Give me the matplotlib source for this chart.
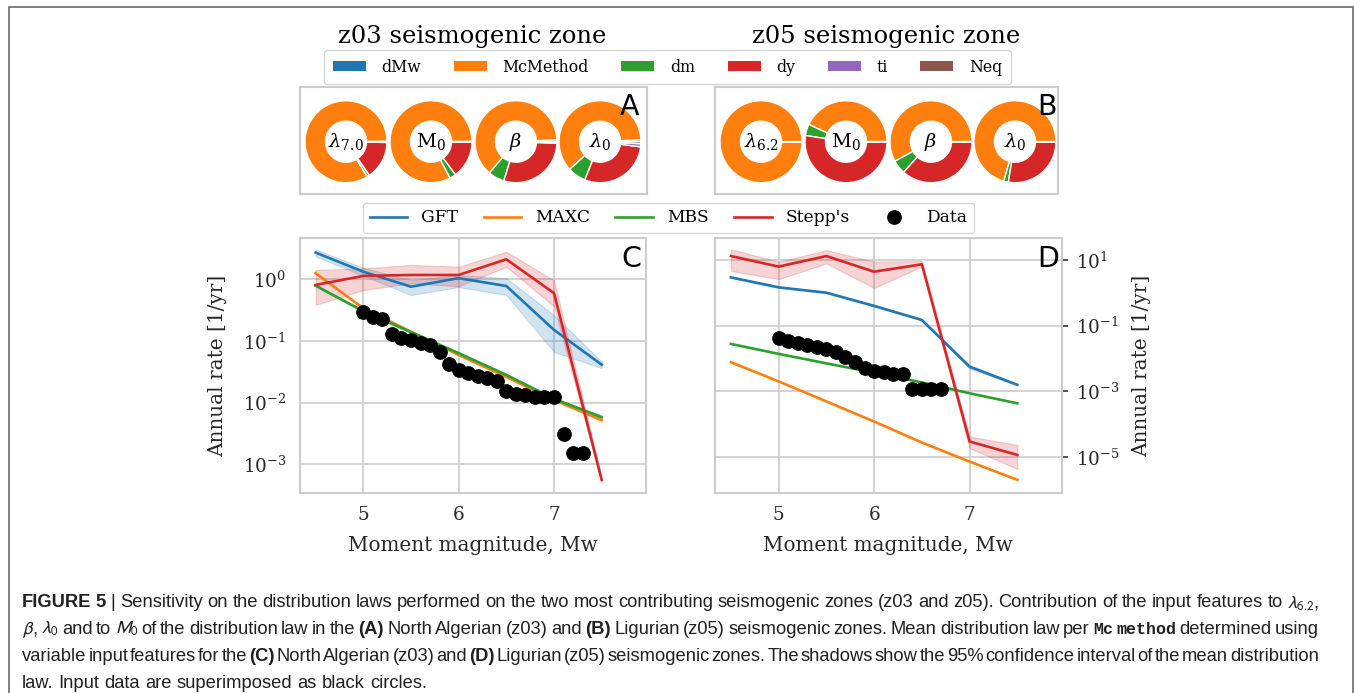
import matplotlib
matplotlib.use('Agg')
import matplotlib.pyplot as plt
from matplotlib.patches import Patch, Rectangle
from matplotlib.lines import Line2D
from matplotlib.ticker import NullLocator

W, H = 1354, 693
plt.rcParams['font.family'] = ['DejaVu Serif']
plt.rcParams['mathtext.fontset'] = 'dejavuserif'

# ---------------- data ----------------
features = ['dMw', 'McMethod', 'dm', 'dy', 'ti', 'Neq']
feature_colors = ['#1f77b4', '#ff7f0e', '#2ca02c', '#d62728', '#9467bd', '#8c564b']

pie_labels_A = [r'$\lambda_{7.0}$', r'$\mathrm{M}_0$', r'$\beta$', r'$\lambda_0$']
pie_A_lambda70 = [0.002, 0.835, 0.010, 0.150, 0.002, 0.001]
pie_A_M0 = [0.002, 0.825, 0.025, 0.146, 0.001, 0.001]
pie_A_beta = [0.008, 0.630, 0.064, 0.292, 0.004, 0.002]
pie_A_lambda0 = [0.008, 0.610, 0.072, 0.290, 0.012, 0.008]

pie_labels_B = [r'$\lambda_{6.2}$', r'$\mathrm{M}_0$', r'$\beta$', r'$\lambda_0$']
pie_B_lambda62 = [0.0005, 0.998, 0.0005, 0.0005, 0.0, 0.0005]
pie_B_M0 = [0.001, 0.430, 0.045, 0.522, 0.001, 0.001]
pie_B_beta = [0.001, 0.578, 0.055, 0.364, 0.001, 0.001]
pie_B_lambda0 = [0.001, 0.705, 0.018, 0.274, 0.001, 0.001]

methods = ['GFT', 'MAXC', 'MBS', "Stepp's"]
method_colors = ['#1f77b4', '#ff7f0e', '#2ca02c', '#d62728']
mag = [4.5, 5.0, 5.5, 6.0, 6.5, 7.0, 7.5]

# z03 (panel C)
c_gft = [2.67, 1.31, 0.75, 1.03, 0.77, 0.15, 0.041]
c_gft_lo = [2.3, 1.12, 0.55, 0.74, 0.55, 0.066, 0.036]
c_gft_hi = [3.0, 1.52, 0.96, 1.16, 1.03, 0.26, 0.046]
c_maxc = [1.24, 0.336, 0.14, 0.059, 0.026, 0.011, 0.0052]
c_maxc_lo = [1.21, 0.33, 0.137, 0.058, 0.0255, 0.0107, 0.0050]
c_maxc_hi = [1.27, 0.342, 0.143, 0.060, 0.0265, 0.0113, 0.0054]
c_mbs = [0.78, 0.30, 0.138, 0.063, 0.028, 0.0115, 0.0058]
c_mbs_lo = [0.76, 0.29, 0.134, 0.061, 0.027, 0.011, 0.0054]
c_mbs_hi = [0.80, 0.31, 0.142, 0.065, 0.029, 0.012, 0.0062]
c_stepp = [0.80, 1.12, 1.16, 1.16, 2.08, 0.59, 0.00056]
c_stepp_lo = [0.38, 0.66, 0.85, 0.76, 1.58, 0.36, 0.00050]
c_stepp_hi = [1.40, 1.48, 1.69, 1.58, 2.75, 0.95, 0.00062]
c_data_mag = [5.0, 5.1, 5.2, 5.3, 5.4, 5.5, 5.6, 5.7, 5.8, 5.9, 6.0, 6.1,
              6.2, 6.3, 6.4, 6.5, 6.6, 6.7, 6.8, 6.9, 7.0, 7.1, 7.2, 7.3]
c_data_rate = [0.289, 0.245, 0.222, 0.127, 0.110, 0.103, 0.093, 0.0855,
               0.0667, 0.042, 0.0337, 0.0305, 0.0272, 0.0247, 0.0226, 0.0156,
               0.0138, 0.0133, 0.0122, 0.0122, 0.0122, 0.0031, 0.00155, 0.00155]

# z05 (panel D)
d_gft = [2.95, 1.47, 1.01, 0.40, 0.149, 0.0056, 0.00158]
d_gft_lo = [2.85, 1.42, 0.97, 0.385, 0.143, 0.0049, 0.00152]
d_gft_hi = [3.05, 1.52, 1.05, 0.415, 0.155, 0.0064, 0.00164]
d_maxc = [0.00767, 0.0020, 0.00049, 0.00012, 2.75e-05, 7.2e-06, 2.0e-06]
d_mbs = [0.0277, 0.0138, 0.0071, 0.0037, 0.00186, 0.00087, 0.00043]
d_stepp = [13.2, 6.3, 13.2, 4.4, 7.4, 2.95e-05, 1.15e-05]
d_stepp_lo = [4.7, 2.6, 7.9, 1.4, 6.3, 1.86e-05, 4.3e-06]
d_stepp_hi = [21.2, 8.9, 20.0, 8.9, 9.3, 4.2e-05, 2.3e-05]
d_data_mag = [5.0, 5.1, 5.2, 5.3, 5.4, 5.5, 5.6, 5.7, 5.8, 5.9, 6.0, 6.1,
              6.2, 6.3, 6.4, 6.5, 6.6, 6.7]
d_data_rate = [0.0412, 0.0342, 0.0304, 0.0258, 0.0230, 0.0195, 0.0155, 0.0109,
               0.00804, 0.00527, 0.00418, 0.00381, 0.00331, 0.00331,
               0.00117, 0.00117, 0.00117, 0.00117]

c_yticks = [1e0, 1e-1, 1e-2, 1e-3]
d_yticks = [1e1, 1e-1, 1e-3, 1e-5]
x_ticks = [5, 6, 7]

caption_lines = [
    [("FIGURE 5", 'b'), ("|", 'n'), ("Sensitivity on the distribution laws performed on the two most contributing seismogenic zones (z03 and z05). Contribution of the input features to $\\lambda_{6.2}$,", 'n')],
    [("$\\beta$, $\\lambda_0$ and to $M_0$ of the distribution law in the", 'n'), ("(A)", 'b'), ("North Algerian (z03) and", 'n'), ("(B)", 'b'), ("Ligurian (z05) seismogenic zones. Mean distribution law per", 'n'), ("Mc method", 'm'), ("determined using", 'n')],
    [("variable input features for the", 'n'), ("(C)", 'b'), ("North Algerian (z03) and", 'n'), ("(D)", 'b'), ("Ligurian (z05) seismogenic zones. The shadows show the 95% confidence interval of the mean distribution", 'n')],
    [("law. Input data are superimposed as black circles.", 'n')],
]

# ---------------- figure ----------------
fig = plt.figure(figsize=(W / 100, H / 100), dpi=100)
GRID = '#cccccc'


def rect(x0, y0, x1, y1):
    return [x0 / W, 1 - y1 / H, (x1 - x0) / W, (y1 - y0) / H]


def fx(x):
    return x / W


def fy(y):
    return 1 - y / H


# outer frame
fig.patches.append(Rectangle((fx(8.5), -0.05), fx(1352.5) - fx(8.5), fy(6.5) + 0.05,
                             transform=fig.transFigure, fill=False,
                             edgecolor='#6a6a6a', lw=1.2))

# titles
fig.text(fx(472), fy(43), 'z03 seismogenic zone', ha='center', va='baseline', fontsize=17.5)
fig.text(fx(886), fy(43), 'z05 seismogenic zone', ha='center', va='baseline', fontsize=17.5)


def pie_panel(box, pies, labels, letter, letter_x):
    x0, y0, x1, y1 = box
    ax = fig.add_axes(rect(*box))
    w, h = x1 - x0, y1 - y0
    centers = [46, 131, 216, 300]
    cy = y1 - 141.7
    for vals, lab, cx in zip(pies, labels, centers):
        ax.pie(vals, colors=feature_colors, center=(cx, cy), radius=41,
               startangle=0, counterclock=True, frame=True,
               wedgeprops=dict(width=20.5, edgecolor='white', linewidth=1.0))
        ax.text(cx, cy, lab, ha='center', va='center', fontsize=14)
    ax.set_xlim(0, w)
    ax.set_ylim(0, h)
    ax.set_aspect('auto')
    ax.set_xticks([])
    ax.set_yticks([])
    for s in ax.spines.values():
        s.set_color(GRID)
        s.set_linewidth(1.5)
    fig.text(fx(letter_x), fy(115), letter, ha='center', va='baseline',
             fontsize=20.5, family='DejaVu Sans')


pie_panel((300, 87.3, 646.7, 194), [pie_A_lambda70, pie_A_M0, pie_A_beta, pie_A_lambda0],
          pie_labels_A, 'A', 630)
pie_panel((715, 87.3, 1058, 194), [pie_B_lambda62, pie_B_M0, pie_B_beta, pie_B_lambda0],
          pie_labels_B, 'B', 1046.5)


def rate_panel(box, series, data_mag, data_rate, ylim, yticks, right):
    ax = fig.add_axes(rect(*box))
    for (mean, lo, hi), col in zip(series, method_colors):
        if lo is not None:
            ax.fill_between(mag, lo, hi, color=col, alpha=0.2, lw=0.8)
        ax.plot(mag, mean, color=col, lw=1.9)
    ax.plot(data_mag, data_rate, 'o', color='black', ms=9.6, ls='none', zorder=5)
    ax.set_yscale('log')
    ax.set_xlim(4.336, 7.965)
    ax.set_ylim(*ylim)
    ax.set_xticks(x_ticks)
    ax.set_yticks(yticks)
    ax.yaxis.set_minor_locator(NullLocator())
    ax.grid(True, color=GRID, lw=1.2)
    ax.set_axisbelow(True)
    for s in ax.spines.values():
        s.set_color(GRID)
        s.set_linewidth(1.5)
    ax.tick_params(axis='x', length=0, pad=9.5, labelsize=13.2, colors='#262626')
    if right:
        ax.yaxis.tick_right()
        ax.tick_params(axis='y', length=4, width=1.2, color='#333333', pad=6,
                       labelsize=13.2, labelcolor='#262626')
    else:
        ax.tick_params(axis='y', length=0, pad=10, labelsize=13.2, colors='#262626')
    return ax


axC = rate_panel((300, 238, 646, 493),
                 [(c_gft, c_gft_lo, c_gft_hi), (c_maxc, c_maxc_lo, c_maxc_hi),
                  (c_mbs, c_mbs_lo, c_mbs_hi), (c_stepp, c_stepp_lo, c_stepp_hi)],
                 c_data_mag, c_data_rate, (10 ** -3.464, 10 ** 0.663), c_yticks, False)
axD = rate_panel((715.3, 237.7, 1061.7, 492.7),
                 [(d_gft, d_gft_lo, d_gft_hi), (d_maxc, None, None),
                  (d_mbs, None, None), (d_stepp, d_stepp_lo, d_stepp_hi)],
                 d_data_mag, d_data_rate, (10 ** -6.09, 10 ** 1.68), d_yticks, True)

fig.text(fx(631.7), fy(266.7), 'C', ha='center', va='baseline', fontsize=20.5, family='DejaVu Sans')
fig.text(fx(1048), fy(266.7), 'D', ha='center', va='baseline', fontsize=20.5, family='DejaVu Sans')

for xc in (472.5, 888):
    fig.text(fx(xc), fy(551), 'Moment magnitude, Mw', ha='center', va='baseline',
             fontsize=14.4, color='#262626')
fig.text(fx(218), fy(366), 'Annual rate [1/yr]', rotation=90, ha='center', va='center',
         fontsize=14.4, color='#262626')
fig.text(fx(1142), fy(366), 'Annual rate [1/yr]', rotation=90, ha='center', va='center',
         fontsize=14.4, color='#262626')

# legends
pie_handles = [Patch(facecolor=c, label=f) for f, c in zip(features, feature_colors)]
fig.legend(handles=pie_handles, loc='center', bbox_to_anchor=(fx(667.5), fy(67)), ncol=6,
           fontsize=11.3, frameon=True, edgecolor=GRID, handlelength=2.1, handleheight=0.65,
           handletextpad=1.0, columnspacing=2.07, borderpad=0.55)

line_handles = [Line2D([], [], color=c, lw=1.9, label=m) for m, c in zip(methods, method_colors)]
line_handles.append(Line2D([], [], marker='o', color='black', ls='none', ms=9.6, label='Data'))
fig.legend(handles=line_handles, loc='center', bbox_to_anchor=(fx(668.5), fy(218)), ncol=5,
           fontsize=12.3, frameon=True, edgecolor=GRID, handlelength=2.2,
           handletextpad=0.8, columnspacing=1.5, borderpad=0.4)

# caption with justified lines
fig.canvas.draw()
renderer = fig.canvas.get_renderer()
CAP_FS = 13.2
styles = {
    'n': dict(family='Liberation Sans', fontsize=CAP_FS, math_fontfamily='stixsans'),
    'b': dict(family='Liberation Sans', fontsize=CAP_FS, fontweight='bold', math_fontfamily='stixsans'),
    'm': dict(family='Liberation Mono', fontsize=12.0, fontweight='bold'),
}
x_left, x_right = 22, 1319
baselines = [607, 634, 661, 687.5]
for li, (segments, yb) in enumerate(zip(caption_lines, baselines)):
    words = []
    for text, st in segments:
        for wtxt in text.split(' '):
            if wtxt:
                words.append((wtxt, st))
    items = []
    for wtxt, st in words:
        t = fig.text(fx(x_left), fy(yb), wtxt, ha='left', va='baseline', color='#231f20', **styles[st])
        items.append(t)
    justify = li < len(caption_lines) - 1
    gap = 0.278 * CAP_FS * 100 / 72
    for it in range(3):
        x = x_left
        for t in items:
            t.set_x(fx(x))
            x += t.get_window_extent(renderer).width + gap
        if not justify:
            break
        fig.canvas.draw()
        right_edge = items[-1].get_window_extent(renderer).x1
        gap -= (right_edge - x_right) / (len(items) - 1)

fig.savefig('out.png', dpi=100)
